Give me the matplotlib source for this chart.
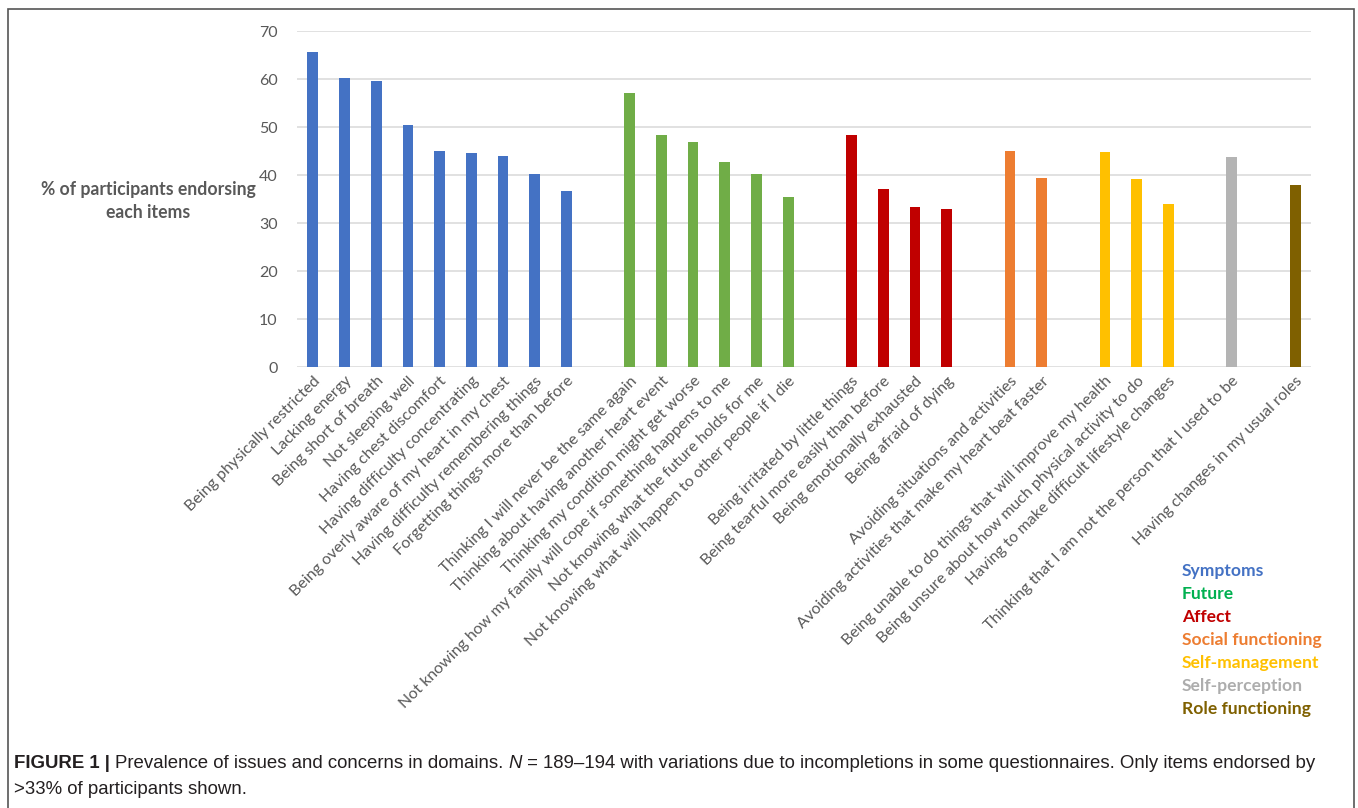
import matplotlib
matplotlib.use("Agg")
import matplotlib.pyplot as plt
from matplotlib.patches import Rectangle

# domains, items and % endorsing
domains = ["Symptoms", "Future", "Affect", "Social functioning",
           "Self-management", "Self-perception", "Role functioning"]
bar_colors = ["#4472C4", "#70AD47", "#C00000", "#ED7D31", "#FFC000", "#B4B4B4", "#7F6000"]
text_colors = ["#4472C4", "#00B050", "#C00000", "#ED7D31", "#FFC000", "#ADADAD", "#7F6000"]

symptoms = ["Being physically restricted", "Lacking energy", "Being short of breath",
            "Not sleeping well", "Having chest discomfort", "Having difficulty concentrating",
            "Being overly aware of my heart in my chest", "Having difficulty remembering things",
            "Forgetting things more than before"]
symptoms_vals = [65.6, 60.3, 59.6, 50.5, 45.1, 44.5, 44.0, 40.3, 36.6]

future = ["Thinking I will never be the same again", "Thinking about having another heart event",
          "Thinking my condition might get worse",
          "Not knowing how my family will cope if something happens to me",
          "Not knowing what the future holds for me",
          "Not knowing what will happen to other people if I die"]
future_vals = [57.0, 48.3, 46.9, 42.8, 40.3, 35.4]

affect = ["Being irritated by little things", "Being tearful more easily than before",
          "Being emotionally exhausted", "Being afraid of dying"]
affect_vals = [48.3, 37.0, 33.3, 32.9]

social = ["Avoiding situations and activities", "Avoiding activities that make my heart beat faster"]
social_vals = [44.9, 39.4]

selfman = ["Being unable to do things that will improve my health",
           "Being unsure about how much physical activity to do",
           "Having to make difficult lifestyle changes"]
selfman_vals = [44.7, 39.2, 33.9]

selfper = ["Thinking that I am not the person that I used to be"]
selfper_vals = [43.8]

role = ["Having changes in my usual roles"]
role_vals = [38.0]

groups = [(symptoms, symptoms_vals), (future, future_vals), (affect, affect_vals),
          (social, social_vals), (selfman, selfman_vals), (selfper, selfper_vals),
          (role, role_vals)]

W, H = 1358, 808
fig = plt.figure(figsize=(W / 100, H / 100), dpi=100)
ax = fig.add_axes([297 / W, 1 - 367 / H, (1311 - 297) / W, (367 - 31) / H])

font = "Lato"
grey = "#595959"

xs, labels = [], []
pos = 0
for gi, (items, vals) in enumerate(groups):
    gx = list(range(pos, pos + len(items)))
    ax.bar(gx, vals, width=0.34, color=bar_colors[gi], zorder=3)
    xs += gx
    labels += items
    pos += len(items) + 1

ax.set_xlim(-0.5, pos - 1.5)
ax.set_ylim(0, 70)
ax.set_yticks(range(0, 71, 10))
ax.yaxis.grid(True, color="#D9D9D9", lw=1.1)
ax.set_axisbelow(True)
for s in ax.spines.values():
    s.set_visible(False)
ax.tick_params(length=0)
ax.tick_params(axis="y", pad=14, labelsize=11.5, labelcolor=grey)
for t in ax.get_yticklabels():
    t.set_family(font)

ax.set_xticks(xs)
ax.set_xticklabels(labels, rotation=45, ha="right", va="top", rotation_mode="anchor",
                   fontsize=11.5, color=grey, family=font)
ax.tick_params(axis="x", pad=5)

fig.text(148 / W, 1 - 201 / H, "% of participants endorsing\neach items", ha="center",
         va="center", fontsize=12.7, fontweight="bold", color=grey, family=font,
         linespacing=1.5)

# legend as coloured words
for i, d in enumerate(domains):
    fig.text(1182 / W, 1 - (571 + 23 * i) / H, d, ha="left", va="center",
             fontsize=12.6, fontweight="bold", color=text_colors[i], family=font)

# border box
fig.patches.append(Rectangle((8 / W, -0.01), (1354 - 8) / W, 1.01 - 9 / H,
                             transform=fig.transFigure, fill=False,
                             edgecolor="#555555", lw=1.2))

# caption, drawn piece by piece
cap_fam = ["Liberation Sans"]
renderer = fig.canvas.get_renderer()


def line(pieces, x0, y):
    x = x0
    for s, wt, st in pieces:
        t = fig.text(x / W, 1 - y / H, s, ha="left", va="center", fontsize=13.45,
                     fontweight=wt, style=st, color="#231F20", family=cap_fam)
        bb = t.get_window_extent(renderer)
        x += bb.width


line([("FIGURE 1 | ", "bold", "normal"),
      ("Prevalence of issues and concerns in domains. ", "normal", "normal"),
      ("N", "normal", "italic"),
      (" = 189\u2013194 with variations due to incompletions in some questionnaires. "
       "Only items endorsed by", "normal", "normal")], 14, 763)
line([(">33% of participants shown.", "normal", "normal")], 14, 790)

fig.savefig("out.png", dpi=100)
